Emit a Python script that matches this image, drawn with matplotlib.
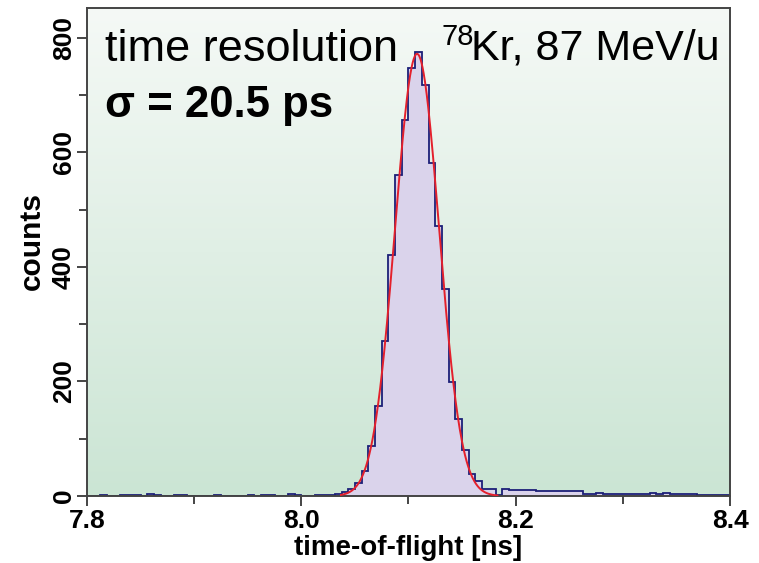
import numpy as np
import matplotlib
matplotlib.use("Agg")
import matplotlib.pyplot as plt
from matplotlib.ticker import MultipleLocator

plt.rcParams['font.family'] = ['Liberation Sans', 'DejaVu Sans']

# histogram: 96 bins between 7.8 and 8.4 ns
t_min, t_max, n_bins = 7.8, 8.4, 96
counts = [0, 0, 1, 0, 0, 1, 2, 1, 0, 3, 1, 0, 0, 2, 1, 0,
          0, 0, 0, 1, 0, 0, 0, 0, 1, 0, 2, 1, 0, 0, 3, 1,
          0, 0, 1, 2, 1, 4, 7, 13, 22, 43, 87, 158, 271, 420,
          561, 656, 747, 775, 718, 581, 472, 361, 199, 135, 81, 39,
          26, 13, 12, 1, 13, 10, 11, 10, 10, 8, 8, 9, 8, 8,
          8, 9, 4, 4, 5, 4, 4, 4, 4, 3, 4, 4, 6, 4,
          5, 4, 4, 3, 3, 1, 1, 1, 1, 1]

# gaussian fit
fit_amp = 772
fit_mean = 8.108     # ns
fit_sigma = 0.0205   # ns
fit_range = (8.037, 8.183)

edges = np.linspace(t_min, t_max, n_bins + 1)
xf = np.linspace(fit_range[0], fit_range[1], 300)
yf = fit_amp * np.exp(-0.5 * ((xf - fit_mean) / fit_sigma) ** 2)

fig = plt.figure(figsize=(7.59, 5.63), dpi=100)
ax = fig.add_axes([0.1146, 0.119, 0.8472, 0.8667])

# background gradient (light at top, mint green at bottom)
top = np.array([245, 249, 246]) / 255
bot = np.array([203, 229, 212]) / 255
g = np.linspace(0, 1, 256)[:, None]
grad = (top * (1 - g) + bot * g)[:, None, :]
ax.imshow(grad, extent=[0, 1, 0, 1], transform=ax.transAxes,
          aspect='auto', zorder=0)

ax.stairs(counts, edges, fill=True, color='#dad3eb', zorder=1)
ax.stairs(counts, edges, color='#1c1f78', lw=1.3, zorder=2)
ax.plot(xf, yf, color='#e4202c', lw=1.4, zorder=3)

ax.set_xlim(t_min, t_max)
ax.set_ylim(0, 852)
ax.xaxis.set_major_locator(MultipleLocator(0.2))
ax.xaxis.set_minor_locator(MultipleLocator(0.1))
ax.yaxis.set_major_locator(MultipleLocator(200))
ax.yaxis.set_minor_locator(MultipleLocator(100))
ax.set_xticks([7.8, 8.0, 8.2, 8.4])
ax.set_xticklabels(['7.8', '8.0', '8.2', '8.4'])

for s in ax.spines.values():
    s.set_linewidth(1.4)
    s.set_color('#444444')
ax.tick_params(which='both', direction='out', width=1.4, color='#444444')
ax.tick_params(which='major', length=7, labelsize=19, pad=2)
ax.tick_params(which='minor', length=6)
ax.tick_params(axis='y', labelrotation=90, pad=1)
plt.setp(ax.get_xticklabels(), fontweight='bold')
plt.setp(ax.get_yticklabels(), fontweight='bold', va='center')

ax.set_xlabel('time-of-flight [ns]', fontsize=20, fontweight='bold', labelpad=2)
ax.set_ylabel('counts', fontsize=21.5, fontweight='bold')
ax.yaxis.set_label_coords(-0.064, 0.523)

ax.text(0.028, 0.892, 'time resolution', transform=ax.transAxes,
        fontsize=32.5, va='baseline', ha='left', zorder=5)
ax.text(0.028, 0.777, 'σ = 20.5 ps', transform=ax.transAxes,
        fontsize=31.5, fontweight='bold', va='baseline', ha='left', zorder=5)
ax.text(0.9844, 0.894, 'Kr, 87 MeV/u', transform=ax.transAxes,
        fontsize=31, va='baseline', ha='right', zorder=5)
ax.text(0.5515, 0.925, '78', transform=ax.transAxes,
        fontsize=21, va='baseline', ha='left', zorder=5)

fig.savefig('out.png', dpi=100)
